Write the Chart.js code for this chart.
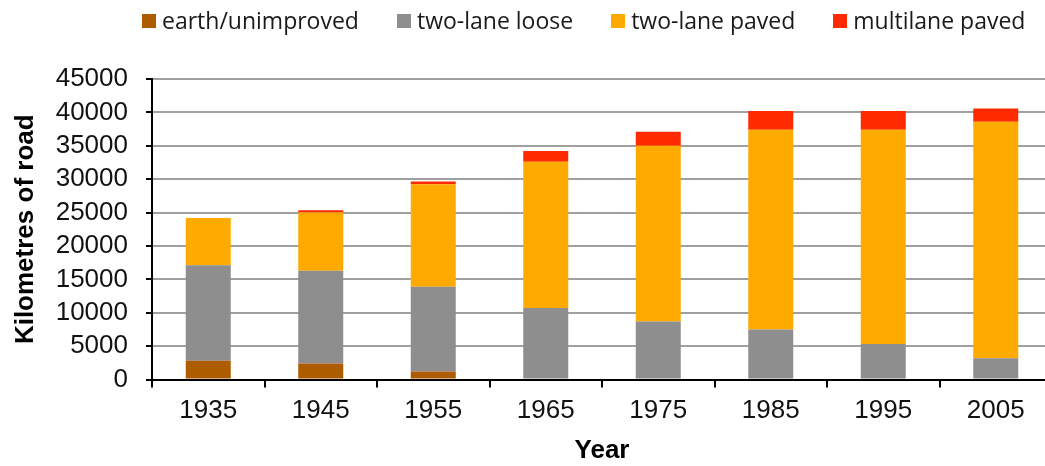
<!DOCTYPE html>
<html>
<head>
<meta charset="utf-8">
<script src="https://cdn.jsdelivr.net/npm/chart.js@4.4.1/dist/chart.umd.min.js"></script>
<style>
  html, body { margin: 0; padding: 0; background: #fff; overflow: hidden; }
  #wrap { position: relative; width: 1045px; height: 466px; overflow: hidden; }
  #legend { position: absolute; left: 142px; top: 4px; display: flex; gap: 38px; align-items: center;
            font-family: 'Open Sans', sans-serif; font-size: 23px; color: #1a1a1a; white-space: nowrap; }
  .item { display: flex; align-items: center; }
  .sw { width: 14px; height: 14px; margin-right: 6px; margin-top: 2px; }
  canvas { position: absolute; left: 0; top: 0; }
</style>
</head>
<body>
<div id="wrap">
  <canvas id="c" width="1060" height="466"></canvas>
  <div id="legend"></div>
</div>
<script>
// values (km of road)
const years = ['1935', '1945', '1955', '1965', '1975', '1985', '1995', '2005'];
const earth = [2800, 2400, 1200, 0, 0, 0, 0, 0];
const looseRoad = [14300, 13900, 12700, 10700, 8700, 7500, 5300, 3200];
const pavedRoad = [7100, 8700, 15350, 21900, 26300, 29900, 32100, 35400];
const multilane = [0, 350, 400, 1600, 2100, 2800, 2800, 2000];

const seriesNames = ['earth/unimproved', 'two-lane loose', 'two-lane paved', 'multilane paved'];
const seriesColors = ['#ae5c00', '#8e8e8e', '#ffaa00', '#ff2a00'];
const seriesValues = [earth, looseRoad, pavedRoad, multilane];

const datasets = seriesNames.map((name, i) => ({
  label: name,
  data: seriesValues[i],
  backgroundColor: seriesColors[i],
  borderWidth: 0,
  barPercentage: 0.4,
  categoryPercentage: 1.0
}));

// legend as plain DOM
const legendEl = document.getElementById('legend');
seriesNames.forEach((name, i) => {
  const it = document.createElement('div'); it.className = 'item';
  const sw = document.createElement('div'); sw.className = 'sw'; sw.style.background = seriesColors[i];
  const tx = document.createElement('span'); tx.textContent = name;
  it.appendChild(sw); it.appendChild(tx);
  legendEl.appendChild(it);
});

const tickFont = { family: "'Liberation Sans', Arial, sans-serif", size: 26, lineHeight: 1.0 };
const titleFont = { family: "'Liberation Sans', Arial, sans-serif", size: 26, weight: 'bold' };

new Chart(document.getElementById('c'), {
  type: 'bar',
  data: { labels: years, datasets },
  options: {
    responsive: false,
    animation: false,
    devicePixelRatio: 1,
    layout: { padding: { left: 0, top: 79, right: 8, bottom: 0 } },
    plugins: { legend: { display: false }, tooltip: { enabled: false } },
    scales: {
      x: {
        stacked: true,
        afterFit: s => { s.height = 86.5; },
        grid: { offset: true, drawOnChartArea: false, tickLength: 8, tickColor: '#000', lineWidth: 2 },
        border: { color: '#000', width: 2 },
        ticks: { color: '#111', font: tickFont, padding: 10, maxRotation: 0, autoSkip: false },
        title: { display: true, text: 'Year', color: '#000', font: titleFont, padding: { top: 0, bottom: 0 } }
      },
      y: {
        stacked: true,
        min: 0,
        max: 45000,
        afterFit: s => { s.width = 152; },
        grid: { color: '#a0a0a0', lineWidth: 2, tickLength: 6, tickColor: '#000' },
        border: { color: '#000', width: 2 },
        ticks: { stepSize: 5000, color: '#111', font: tickFont, padding: 18, autoSkip: false, callback: v => String(v) },
        title: { display: true, text: 'Kilometres of road', color: '#000', font: titleFont, padding: { top: 10, bottom: 0 } }
      }
    }
  }
});
</script>
</body>
</html>
